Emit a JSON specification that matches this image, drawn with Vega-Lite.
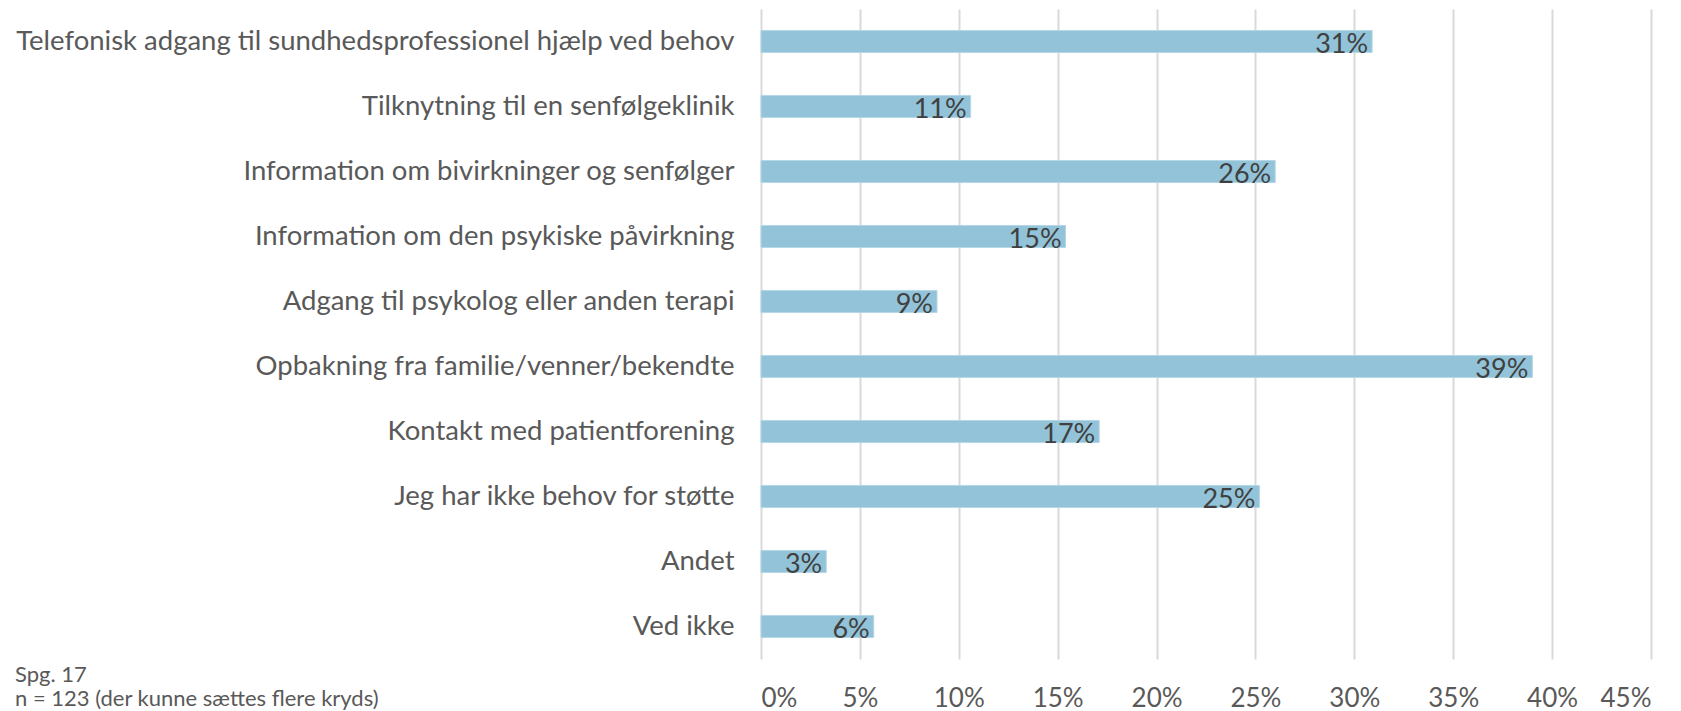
{
  "$schema": "https://vega.github.io/schema/vega-lite/v6.json",
  "autosize": "none",
  "width": 890,
  "height": 650,
  "padding": {"left": 761, "top": 9, "right": 30, "bottom": 52},
  "background": "white",
  "config": {"view": {"stroke": null}, "font": "Lato"},
  "title": {
    "text": ["Spg. 17", "n = 123 (der kunne sættes flere kryds)"],
    "orient": "bottom",
    "anchor": "start",
    "frame": "bounds",
    "offset": -46,
    "font": "Lato",
    "fontSize": 22,
    "fontWeight": "normal",
    "color": "#595959",
    "lineHeight": 24
  },
  "data": {
    "values": [
      {"kategori": "Telefonisk adgang til sundhedsprofessionel hjælp ved behov", "andel": 0.309},
      {"kategori": "Tilknytning til en senfølgeklinik", "andel": 0.106},
      {"kategori": "Information om bivirkninger og senfølger", "andel": 0.260},
      {"kategori": "Information om den psykiske påvirkning", "andel": 0.154},
      {"kategori": "Adgang til psykolog eller anden terapi", "andel": 0.089},
      {"kategori": "Opbakning fra familie/venner/bekendte", "andel": 0.390},
      {"kategori": "Kontakt med patientforening", "andel": 0.171},
      {"kategori": "Jeg har ikke behov for støtte", "andel": 0.252},
      {"kategori": "Andet", "andel": 0.033},
      {"kategori": "Ved ikke", "andel": 0.057}
    ]
  },
  "encoding": {
    "y": {
      "field": "kategori",
      "type": "nominal",
      "sort": null,
      "scale": {"paddingInner": 0.66, "paddingOuter": 0.33},
      "axis": {
        "title": null,
        "domain": false,
        "ticks": false,
        "labelPadding": 27,
        "labelFont": "Lato",
        "labelFontSize": 27.5,
        "labelColor": "#595959",
        "labelLimit": 0
      }
    },
    "x": {
      "field": "andel",
      "type": "quantitative",
      "scale": {"domain": [0, 0.45], "nice": false},
      "axis": {
        "title": null,
        "format": ".0%",
        "values": [0, 0.05, 0.1, 0.15, 0.2, 0.25, 0.3, 0.35, 0.4, 0.45],
        "domain": false,
        "ticks": false,
        "grid": true,
        "gridColor": "#d9d9d9",
        "gridWidth": 2,
        "labelPadding": 26,
        "labelFont": "Lato",
        "labelFontSize": 26,
        "labelColor": "#595959"
      }
    }
  },
  "layer": [
    {"mark": {"type": "bar", "color": "#92c3d8", "stroke": "#b5d7e6", "strokeWidth": 1}},
    {
      "mark": {"type": "text", "align": "right", "baseline": "middle", "dx": -4, "dy": 3, "font": "Lato", "fontSize": 27, "color": "#404040"},
      "encoding": {"text": {"field": "andel", "type": "quantitative", "format": ".0%"}}
    }
  ]
}
